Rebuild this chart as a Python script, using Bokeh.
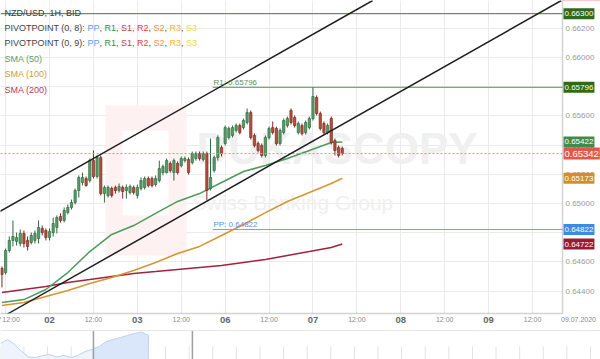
from bokeh.plotting import figure
from bokeh.models import Range1d, FixedTicker, Label, Slope, Span, BoxAnnotation, Grid
from bokeh.layouts import column
from bokeh.embed import file_html
from bokeh.resources import INLINE

# ---------------- data ----------------
hours = list(range(-13, 81))  # hours from 02.07 00:00 (weekend removed)
opens = [0.64555, 0.64527, 0.64678, 0.64747, 0.64740, 0.64726, 0.64795, 0.64747, 0.64733, 0.64747,
         0.64760, 0.64829, 0.64815, 0.64767, 0.64801, 0.64836, 0.64911, 0.64884, 0.64938, 0.64973,
         0.65007, 0.65089, 0.65144, 0.65171, 0.65157, 0.65294, 0.65185, 0.65315, 0.65068, 0.65055,
         0.65103, 0.65110, 0.65089, 0.65110, 0.65089, 0.65075, 0.65110, 0.65055, 0.65103, 0.65110,
         0.65171, 0.65171, 0.65130, 0.65157, 0.65212, 0.65212, 0.65274, 0.65212, 0.65274, 0.65260,
         0.65294, 0.65301, 0.65281, 0.65308, 0.65342, 0.65301, 0.65342, 0.65103, 0.65226, 0.65315,
         0.65383, 0.65411, 0.65452, 0.65466, 0.65500, 0.65534, 0.65520, 0.65555, 0.65623, 0.65466,
         0.65411, 0.65397, 0.65329, 0.65452, 0.65520, 0.65514, 0.65411, 0.65486, 0.65534, 0.65637,
         0.65589, 0.65486, 0.65534, 0.65486, 0.65520, 0.65582, 0.65726, 0.65616, 0.65548, 0.65486,
         0.65582, 0.65431, 0.65383, 0.65377]
highs = [0.64569, 0.64692, 0.64774, 0.64884, 0.64801, 0.64822, 0.64815, 0.64774, 0.64801, 0.64815,
         0.64884, 0.64849, 0.64829, 0.64829, 0.64904, 0.64918, 0.64932, 0.64973, 0.64993, 0.65027,
         0.65103, 0.65192, 0.65212, 0.65185, 0.65308, 0.65363, 0.65329, 0.65329, 0.65123, 0.65123,
         0.65116, 0.65123, 0.65137, 0.65123, 0.65130, 0.65130, 0.65123, 0.65130, 0.65178, 0.65185,
         0.65185, 0.65185, 0.65192, 0.65294, 0.65267, 0.65308, 0.65288, 0.65308, 0.65288, 0.65322,
         0.65322, 0.65315, 0.65356, 0.65356, 0.65356, 0.65356, 0.65356, 0.65445, 0.65329, 0.65466,
         0.65397, 0.65534, 0.65527, 0.65534, 0.65548, 0.65548, 0.65582, 0.65651, 0.65637, 0.65479,
         0.65425, 0.65411, 0.65466, 0.65527, 0.65562, 0.65527, 0.65514, 0.65582, 0.65596, 0.65651,
         0.65603, 0.65562, 0.65548, 0.65568, 0.65596, 0.65795, 0.65740, 0.65630, 0.65562, 0.65548,
         0.65596, 0.65445, 0.65397, 0.65390]
lows = [0.64425, 0.64514, 0.64664, 0.64706, 0.64712, 0.64706, 0.64699, 0.64678, 0.64719, 0.64726,
        0.64726, 0.64781, 0.64747, 0.64747, 0.64774, 0.64795, 0.64870, 0.64870, 0.64925, 0.64959,
        0.64993, 0.65041, 0.65123, 0.65116, 0.65144, 0.65171, 0.65171, 0.65055, 0.65007, 0.65041,
        0.65041, 0.65068, 0.65075, 0.65034, 0.65034, 0.65062, 0.65062, 0.65034, 0.65089, 0.65096,
        0.65110, 0.65110, 0.65116, 0.65144, 0.65192, 0.65205, 0.65212, 0.65157, 0.65199, 0.65247,
        0.65281, 0.65199, 0.65267, 0.65294, 0.65294, 0.65288, 0.65021, 0.65089, 0.65212, 0.65294,
        0.65322, 0.65397, 0.65438, 0.65452, 0.65486, 0.65473, 0.65507, 0.65541, 0.65438, 0.65383,
        0.65349, 0.65315, 0.65315, 0.65438, 0.65473, 0.65397, 0.65397, 0.65473, 0.65520, 0.65541,
        0.65520, 0.65473, 0.65466, 0.65473, 0.65507, 0.65568, 0.65603, 0.65500, 0.65473, 0.65473,
        0.65404, 0.65329, 0.65315, 0.65329]
closes = [0.64514, 0.64678, 0.64747, 0.64774, 0.64767, 0.64795, 0.64726, 0.64706, 0.64781, 0.64795,
          0.64836, 0.64801, 0.64767, 0.64808, 0.64863, 0.64904, 0.64884, 0.64952, 0.64973, 0.65007,
          0.65089, 0.65178, 0.65178, 0.65123, 0.65294, 0.65185, 0.65315, 0.65068, 0.65110, 0.65110,
          0.65055, 0.65089, 0.65116, 0.65082, 0.65110, 0.65116, 0.65075, 0.65110, 0.65157, 0.65171,
          0.65123, 0.65123, 0.65171, 0.65240, 0.65253, 0.65294, 0.65226, 0.65294, 0.65212, 0.65308,
          0.65308, 0.65212, 0.65342, 0.65342, 0.65308, 0.65342, 0.65089, 0.65178, 0.65315, 0.65452,
          0.65342, 0.65520, 0.65514, 0.65520, 0.65534, 0.65486, 0.65568, 0.65623, 0.65452, 0.65397,
          0.65363, 0.65329, 0.65452, 0.65514, 0.65486, 0.65411, 0.65500, 0.65568, 0.65582, 0.65555,
          0.65534, 0.65548, 0.65479, 0.65555, 0.65582, 0.65733, 0.65616, 0.65514, 0.65486, 0.65534,
          0.65418, 0.65363, 0.65329, 0.65342]

ma_hours = [-13, -7, -1, 5, 11, 17, 23, 29, 35, 41, 47, 53, 59, 65, 71, 77, 80]
sma50 = [0.64322, 0.64342, 0.64411, 0.64527, 0.64671, 0.64788, 0.64849, 0.64932, 0.65014,
         0.65068, 0.65144, 0.65219, 0.65260, 0.65308, 0.65363, 0.65418, 0.65422]
sma100 = [0.64301, 0.64322, 0.64363, 0.64404, 0.64452, 0.64493, 0.64541, 0.64596, 0.64658,
          0.64706, 0.64781, 0.64856, 0.64938, 0.65014, 0.65075, 0.65137, 0.65173]
sma200 = [0.64390, 0.64411, 0.64432, 0.64459, 0.64479, 0.64500, 0.64521, 0.64534, 0.64548,
          0.64562, 0.64575, 0.64596, 0.64616, 0.64644, 0.64671, 0.64699, 0.64722]

# channel anchor points (hour, price)
upper_channel = [(-13.0, 0.64954), (88.0, 0.66386)]
lower_channel = [(-9.8, 0.64267), (139.7, 0.66388)]

level_top = 0.66300
level_r2 = 0.66412
pivot_start = 44.6
r1_level = 0.65796
pp_level = 0.64822
last_price = 0.65342

y_ticks = [0.644, 0.646, 0.648, 0.650, 0.652, 0.654, 0.656, 0.658, 0.660, 0.662]
half_day_ticks = [-12, 12, 36, 60, 84, 108, 132]
half_day_label = "12:00"
day_ticks = [0, 24, 48, 72, 96, 120]
day_labels = ["02", "03", "06", "07", "08", "09"]
end_date_label = "09.07.2020"

nav_values = [16, 20, 15, 8, 2.5, 2, 4, 5, 2.5, 4, 2, 4, 8, 10, 13, 18, 20, 22, 24, 26, 27.5, 24]

# ---------------- layout constants ----------------
H_MAIN = 325          # main canvas height
X_LEFT, X_AXIS_END, X_RIGHT = -13.4, 140.2, 150.58   # hours at px 0, 562, 600
Y_TOP, Y_AXIS_END, Y_BOTTOM = 0.663904, 0.642466, 0.641644  # price at px 0, 313, 325
FONT = "Liberation Sans"

p = figure(width=600, height=H_MAIN, x_range=Range1d(X_LEFT, X_RIGHT),
           y_range=Range1d(Y_BOTTOM, Y_TOP), output_backend="svg", toolbar_location=None,
           min_border=0, x_axis_location=None, y_axis_location=None)
p.outline_line_color = None
p.background_fill_color = "white"
p.border_fill_color = "white"
p.grid.visible = False
p.add_layout(Grid(dimension=0, ticker=FixedTicker(ticks=sorted(half_day_ticks + day_ticks)),
                  grid_line_color="#ebebeb"))
p.add_layout(Grid(dimension=1, ticker=FixedTicker(ticks=y_ticks), grid_line_color="#ebebeb"))

# watermark
p.add_layout(BoxAnnotation(left=105, right=186, top=H_MAIN - 105, bottom=H_MAIN - 255,
                           left_units="screen", right_units="screen", top_units="screen",
                           bottom_units="screen", fill_color="#fdf1f1", fill_alpha=1,
                           line_color=None, level="underlay"))
p.add_layout(BoxAnnotation(left=122, right=168, top=H_MAIN - 130, bottom=H_MAIN - 215,
                           left_units="screen", right_units="screen", top_units="screen",
                           bottom_units="screen", fill_color="white", fill_alpha=1,
                           line_color=None, level="underlay"))
p.add_layout(Label(x=196, y=H_MAIN - 148, x_units="screen", y_units="screen", text="DUKASCOPY",
                   text_font=FONT, text_font_style="bold", text_font_size="44px",
                   text_color="#f0f0f0", text_baseline="middle", level="underlay"))
p.add_layout(Label(x=192, y=H_MAIN - 202, x_units="screen", y_units="screen",
                   text="Swiss Banking Group", text_font=FONT, text_font_size="21px",
                   text_color="#f0f0f0", text_baseline="middle", level="underlay"))

# horizontal levels
p.add_layout(Span(location=level_top, dimension="width", line_color="#3f7a2c", line_width=1))
p.ray(x=[pivot_start], y=[r1_level], length=0, angle=0, line_color="#5f9150", line_width=1)
p.ray(x=[pivot_start], y=[pp_level], length=0, angle=0, line_color="#6fa3ee", line_width=1)
p.add_layout(Span(location=last_price, dimension="width", line_color="#f08a8a", line_width=1,
                  line_dash="2 2"))

# moving averages
p.line(ma_hours, sma200, line_color="#a3233f", line_width=1.5)
p.line(ma_hours, sma100, line_color="#d5962f", line_width=1.5)
p.line(ma_hours, sma50, line_color="#4e9a5e", line_width=1.5)

# channel lines
for (xa, ya), (xb, yb) in [upper_channel, lower_channel]:
    g = (yb - ya) / (xb - xa)
    p.add_layout(Slope(gradient=g, y_intercept=ya - g * xa, line_color="#1e1e1e", line_width=1.5))

# candles
up = [c >= o for o, c in zip(opens, closes)]
for flag, fill, edge in [(True, "#5a9d6c", "#2f6b3f"), (False, "#b5503f", "#7d2a20")]:
    idx = [i for i, u in enumerate(up) if u == flag]
    xs = [hours[i] for i in idx]
    p.segment(x0=xs, y0=[lows[i] for i in idx], x1=xs, y1=[highs[i] for i in idx],
              line_color=edge, line_width=1)
    p.vbar(x=xs, width=0.62, top=[max(opens[i], closes[i]) for i in idx],
           bottom=[min(opens[i], closes[i]) for i in idx], fill_color=fill, line_color=edge,
           line_width=0.7)

# white margins for the axis areas, then the axis border
p.add_layout(BoxAnnotation(left=X_AXIS_END, fill_color="white", fill_alpha=1, line_color=None))
p.add_layout(BoxAnnotation(top=Y_AXIS_END, fill_color="white", fill_alpha=1, line_color=None))
p.add_layout(BoxAnnotation(left=X_LEFT - 5, right=X_AXIS_END, bottom=Y_AXIS_END, top=Y_TOP + 0.001,
                           fill_alpha=0, line_color="#6e6e6e", line_width=1.5))
p.add_layout(BoxAnnotation(left=X_AXIS_END, bottom=level_r2 - 0.00014, fill_color="#e8352a",
                           fill_alpha=1, line_color=None))

# level texts
p.add_layout(Label(x=pivot_start + 0.2, y=r1_level, text="R1: 0.65796", text_color="#5f9150",
                   text_font=FONT, text_font_size="8px", text_baseline="bottom"))
p.add_layout(Label(x=pivot_start + 0.2, y=pp_level, text="PP: 0.64822", text_color="#5a90e6",
                   text_font=FONT, text_font_size="8px", text_baseline="bottom"))

# price axis tick labels
for t in y_ticks:
    p.add_layout(Label(x=565, x_units="screen", y=t, text=f"{t:.5f}", text_color="#9a9a9a",
                       text_font=FONT, text_font_size="8px", text_baseline="middle"))

# price boxes on the right axis
boxes = [(level_top, "#2f6a1c", "8px"), (r1_level, "#2f6a14", "8px"), (sma50[-1], "#3f8b4f", "8px"),
         (sma100[-1], "#cf8f2c", "8px"), (pp_level, "#3b8be2", "8px"), (sma200[-1], "#981a37", "8px"),
         (last_price, "#e05848", "9.5px")]
for val, bg, fs in boxes:
    p.add_layout(Label(x=563, x_units="screen", y=val, text=f"{val:.5f}", text_color="white",
                       text_font=FONT, text_font_size=fs, text_baseline="middle",
                       background_fill_color=bg, padding=(1, 3)))

# time axis labels
LBL_Y = H_MAIN - 319
for t in half_day_ticks:
    p.add_layout(Label(x=max(t, X_LEFT + 1.6), y=LBL_Y, y_units="screen", text=half_day_label,
                       text_align="left" if t < X_LEFT + 4 else "center",
                       text_baseline="middle", text_font=FONT, text_font_size="7px",
                       text_color="#8a8a8a", x_offset=-4 if t < X_LEFT + 4 else 0))
for t, lab in zip(day_ticks, day_labels):
    p.add_layout(Label(x=t, y=LBL_Y, y_units="screen", text=lab, text_align="center",
                       text_baseline="middle", text_font=FONT, text_font_style="bold",
                       text_font_size="9.5px", text_color="#666666"))
p.add_layout(Label(x=578, y=LBL_Y, x_units="screen", y_units="screen", text=end_date_label,
                   text_align="center", text_baseline="middle", text_font=FONT,
                   text_font_size="7px", text_color="#8a8a8a"))

# legend text
W = {'P': 667, 'I': 278, 'V': 667, 'O': 778, 'T': 611, 'N': 722, ' ': 278, '(': 333, ')': 333,
     '0': 556, ',': 278, '8': 556, '9': 556, ':': 278, 'R': 722, 'S': 667, '1': 556, '2': 556,
     '3': 556}


def tw(s, size=9):
    return sum(W.get(ch, 556) for ch in s) * size / 1000.0


def leg(x, cy, text, color):
    p.add_layout(Label(x=x, y=H_MAIN - cy, x_units="screen", y_units="screen", text=text,
                       text_color=color, text_font=FONT, text_font_size="9px",
                       text_baseline="middle"))


leg(4, 12, "NZD/USD, 1H, BID", "#3a3a3a")
piv_cols = [("PP", "#5b9cf5"), ("R1", "#3f8a3f"), ("S1", "#c43c3c"), ("R2", "#ee4040"),
            ("S2", "#f5913a"), ("R3", "#f2b62a"), ("S3", "#efdc2a")]
for cy, nm in [(27, "PIVOTPOINT (0, 8): "), (42, "PIVOTPOINT (0, 9): ")]:
    x = 4
    leg(x, cy, nm, "#444444")
    x += tw(nm)
    for k, (t, c) in enumerate(piv_cols):
        leg(x, cy, t, c)
        x += tw(t)
        if k < len(piv_cols) - 1:
            leg(x, cy, ", ", "#444444")
            x += tw(", ")
leg(4, 58, "SMA (50)", "#5c9d6b")
leg(4, 73, "SMA (100)", "#d19a45")
leg(4, 89, "SMA (200)", "#b0405a")

# ---------------- navigator ----------------
nav = figure(width=600, height=34, x_range=Range1d(0, 85.14), y_range=Range1d(0, 34),
             output_backend="svg", toolbar_location=None, min_border=0,
             x_axis_location=None, y_axis_location=None)
nav.outline_line_color = None
nav.grid.visible = False
nav_x = list(range(len(nav_values)))
tick_x = [3.35 * k + 6.67 for k in range(-2, 24)]
nav.segment(x0=tick_x, y0=[0] * len(tick_x), x1=tick_x, y1=[13] * len(tick_x),
            line_color="#e3e3e3", line_width=1)
nav.varea(x=nav_x, y1=[0] * len(nav_x), y2=nav_values, fill_color="#eef3fc")
sel = [i for i in nav_x if i >= 13]
nav.varea(x=sel, y1=[0] * len(sel), y2=[nav_values[i] for i in sel], fill_color="#dae7fb")
nav.line(nav_x, nav_values, line_color="#bcd2f3", line_width=1)
nav.segment(x0=[20.95], y0=[0], x1=[21], y1=[nav_values[-1]], line_color="#bcd2f3")
nav.add_layout(Span(location=29, dimension="width", line_color="#e6e6e6", line_width=1))
nav.segment(x0=[13.19, 27.23], y0=[0, 0], x1=[13.19, 27.23], y1=[29, 29],
            line_color="#a0a0a0", line_width=1.5)

layout = column(p, nav)
open("out.html", "w").write(file_html(layout, INLINE))
